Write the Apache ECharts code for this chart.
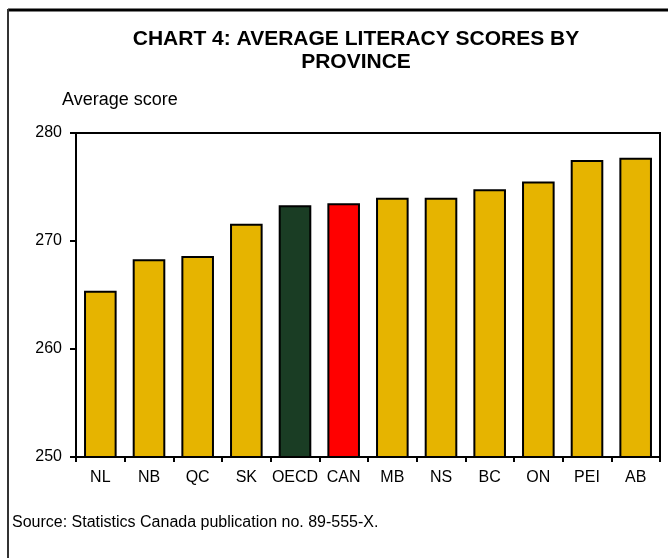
<!DOCTYPE html>
<html><head><meta charset="utf-8">
<script src="https://cdn.jsdelivr.net/npm/echarts@6/dist/echarts.min.js"></script>
<style>html,body{margin:0;padding:0;background:#fff}#c{width:668px;height:558px}</style>
</head><body><div id="c"></div>
<script>
var categories = ['NL','NB','QC','SK','OECD','CAN','MB','NS','BC','ON','PEI','AB'];
var scores = [265.4, 268.3, 268.6, 271.6, 273.3, 273.5, 274.0, 274.0, 274.8, 275.5, 277.5, 277.7];
var barColors = ['#E6B400','#E6B400','#E6B400','#E6B400','#1A3D24','#FF0000','#E6B400','#E6B400','#E6B400','#E6B400','#E6B400','#E6B400'];
var yTicks = [250, 260, 270, 280];
var titleLines = ['CHART 4: AVERAGE LITERACY SCORES BY', 'PROVINCE'];
var yAxisTitle = 'Average score';
var sourceText = 'Source: Statistics Canada publication no. 89-555-X.';

var FONT = 'Arial, "Liberation Sans", sans-serif';
var chart = echarts.init(document.getElementById('c'), null, {renderer: 'canvas'});
chart.setOption({
  animation: false,
  backgroundColor: '#fff',
  title: {
    text: titleLines.join('\n'),
    left: 351, top: 23, textAlign: 'center',
    textStyle: {fontFamily: FONT, fontSize: 21, fontWeight: 'bold', color: '#000', lineHeight: 23}
  },
  grid: {left: 76, right: 8, top: 133, bottom: 101, show: true, borderColor: '#000', borderWidth: 2, backgroundColor: 'transparent'},
  xAxis: {
    type: 'category', data: categories,
    axisLine: {lineStyle: {color: '#000', width: 2}},
    axisTick: {show: true, interval: 0, length: 5, inside: false, lineStyle: {color: '#000', width: 2}},
    axisLabel: {interval: 0, color: '#000', fontFamily: FONT, fontSize: 16, margin: 13}
  },
  yAxis: {
    type: 'value', min: yTicks[0], max: yTicks[yTicks.length-1], interval: 10,
    axisLine: {show: true, lineStyle: {color: '#000', width: 2}},
    axisTick: {show: true, length: 6, inside: false, lineStyle: {color: '#000', width: 2}},
    splitLine: {show: false},
    axisLabel: {color: '#000', fontFamily: FONT, fontSize: 16, margin: 14}
  },
  series: [{
    type: 'bar',
    data: scores.map(function(v, i){ return {value: v, itemStyle: {color: barColors[i]}}; }),
    barCategoryGap: '33%',
    itemStyle: {borderColor: '#000', borderWidth: 2}
  }],
  graphic: [
    {type: 'line', shape: {x1: 8, y1: 10, x2: 668, y2: 10}, style: {stroke: '#000', lineWidth: 3}},
    {type: 'line', shape: {x1: 8, y1: 9, x2: 8, y2: 558}, style: {stroke: '#333', lineWidth: 2}},
    {type: 'text', left: 62, top: 91, style: {text: yAxisTitle, font: '18px ' + FONT, fill: '#000'}},
    {type: 'text', left: 12, top: 515, style: {text: sourceText, font: '16px ' + FONT, fill: '#000'}}
  ]
});
</script></body></html>
